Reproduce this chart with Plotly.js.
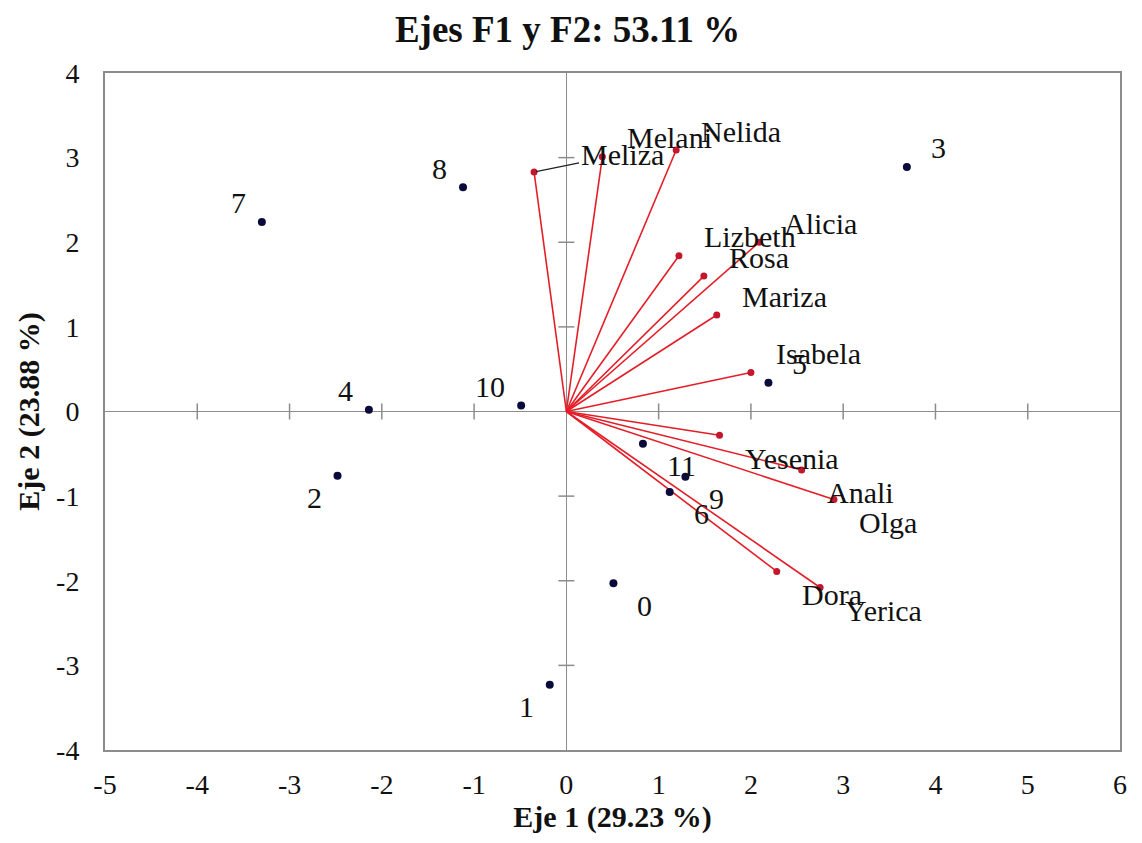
<!DOCTYPE html>
<html>
<head>
<meta charset="utf-8">
<script src="https://cdn.plot.ly/plotly-3.0.1.min.js"></script>
<style>html,body{margin:0;padding:0;background:#fff;}#chart{width:1142px;height:843px;}</style>
</head>
<body>
<div id="chart"></div>
<script>
// Observations (F1, F2)
const obsNames = ['0','1','2','3','4','5','6','7','8','9','10','11'];
const obsF1 = [0.51, -0.18, -2.48, 3.69, -2.14, 2.19, 1.12, -3.30, -1.12, 1.29, -0.49, 0.83];
const obsF2 = [-2.03, -3.23, -0.76, 2.89, 0.02, 0.34, -0.95, 2.24, 2.65, -0.77, 0.07, -0.38];
const obsLabelPos = ['br','bl','bl','tr','tl','tr','br','tl','tl','br','tl','br'];

// Variables (vectors)
const varNames = ['Meliza','Melani','Nelida','Lizbeth','Rosa','Alicia','Mariza','Isabela','Yesenia','Anali','Olga','Dora','Yerica'];
const varF1 = [-0.35, 0.39, 1.19, 1.22, 1.49, 2.09, 1.63, 2.00, 1.66, 2.55, 2.90, 2.28, 2.75];
const varF2 = [2.83, 3.01, 3.09, 1.84, 1.60, 2.00, 1.14, 0.46, -0.28, -0.69, -1.04, -1.89, -2.08];
const varLabelPos = ['leader','tr','tr','tr','tr','tr','tr','tr','br','br','br','br','br'];

const xTickVals = [-5,-4,-3,-2,-1,0,1,2,3,4,5,6];
const yTickVals = [-4,-3,-2,-1,0,1,2,3,4];

const FONT = 'Liberation Serif, Times New Roman, serif';
const GREY = '#8c8c8c';

// vector lines
const lx = [], ly = [];
for (let i = 0; i < varNames.length; i++) { lx.push(0, varF1[i], null); ly.push(0, varF2[i], null); }

const traces = [
  { type:'scatter', mode:'lines', x:lx, y:ly, line:{color:'rgb(228,30,40)', width:1.6}, hoverinfo:'skip', showlegend:false },
  { type:'scatter', mode:'markers', x:varF1, y:varF2, marker:{color:'rgb(196,22,44)', size:7}, showlegend:false },
  { type:'scatter', mode:'markers', x:obsF1, y:obsF2, marker:{color:'#0b0b3b', size:8}, showlegend:false }
];

const annotations = [];
function shiftFor(pos, right, left, up, down){
  const a = {};
  if (pos[1] === 'r') { a.xanchor='left'; a.xshift=right; } else { a.xanchor='right'; a.xshift=left; }
  a.yshift = pos[0] === 't' ? up : down;
  return a;
}
for (let i = 0; i < obsNames.length; i++) {
  const s = shiftFor(obsLabelPos[i], 22, -14, 19, -22);
  annotations.push(Object.assign({ x:obsF1[i], y:obsF2[i], xref:'x', yref:'y', text:obsNames[i], showarrow:false,
    yanchor:'middle', font:{family:FONT, size:30, color:'#111'} }, s));
}
for (let i = 0; i < varNames.length; i++) {
  if (varLabelPos[i] === 'leader') {
    annotations.push({ x:varF1[i], y:varF2[i], xref:'x', yref:'y', text:varNames[i], showarrow:true, arrowhead:0,
      arrowwidth:1.2, arrowcolor:'#222', ax:88, ay:-18, standoff:2, font:{family:FONT, size:30, color:'#111'} });
  } else {
    const s = shiftFor(varLabelPos[i], 23, -23, 19, -23);
    annotations.push(Object.assign({ x:varF1[i], y:varF2[i], xref:'x', yref:'y', text:varNames[i], showarrow:false,
      yanchor:'middle', font:{family:FONT, size:30, color:'#111'} }, s));
  }
}

// crossing tick marks on the zero lines
const shapes = [];
xTickVals.forEach(v => { if (v !== 0 && v !== xTickVals[0] && v !== xTickVals[xTickVals.length-1]) shapes.push({
  type:'line', xref:'x', yref:'y', x0:v, x1:v, ysizemode:'pixel', yanchor:0, y0:-8, y1:8, line:{color:GREY, width:1.5} }); });
yTickVals.forEach(v => { if (v !== 0 && v !== yTickVals[0] && v !== yTickVals[yTickVals.length-1]) shapes.push({
  type:'line', xref:'x', yref:'y', y0:v, y1:v, xsizemode:'pixel', xanchor:0, x0:-8, x1:8, line:{color:GREY, width:1.5} }); });

const layout = {
  width:1142, height:843, autosize:false,
  margin:{l:105, r:22, t:73, b:93},
  paper_bgcolor:'#fff', plot_bgcolor:'#fff',
  font:{family:FONT, color:'#111'},
  title:{ text:'<b>Ejes F1 y F2: 53.11 %</b>', x:0.497, xref:'container', y:0.966, yref:'container', yanchor:'middle',
    font:{family:FONT, size:37, color:'#111'} },
  xaxis:{ range:[-5,6], tickvals:xTickVals, ticktext:xTickVals.map(String), showgrid:false, zeroline:true,
    zerolinecolor:GREY, zerolinewidth:1.5, showline:true, mirror:true, linecolor:GREY, linewidth:2, ticks:'',
    tickfont:{family:FONT, size:28, color:'#111'}, ticklabelstandoff:8,
    title:{ text:'<b>Eje 1 (29.23 %)</b>', font:{family:FONT, size:30, color:'#111'}, standoff:6 } },
  yaxis:{ range:[-4,4], tickvals:yTickVals, ticktext:yTickVals.map(String), showgrid:false, zeroline:true,
    zerolinecolor:GREY, zerolinewidth:1.5, showline:true, mirror:true, linecolor:GREY, linewidth:2, ticks:'',
    tickfont:{family:FONT, size:28, color:'#111'}, ticklabelstandoff:18,
    title:{ text:'<b>Eje 2 (23.88 %)</b>', font:{family:FONT, size:30, color:'#111'}, standoff:8 } },
  shapes:shapes, annotations:annotations, showlegend:false
};

Plotly.newPlot('chart', traces, layout, {displayModeBar:false, staticPlot:true});
</script>
</body>
</html>
